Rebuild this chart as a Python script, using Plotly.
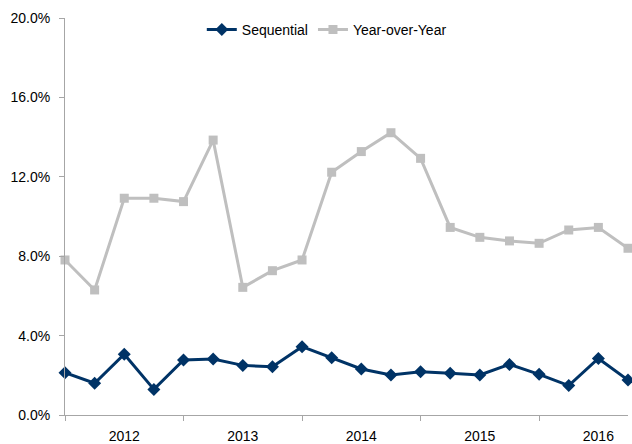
import plotly.graph_objects as go

quarters = list(range(20))
years = ["2012", "2013", "2014", "2015", "2016"]
year_label_pos = [2, 6, 10, 14, 18]
sequential = [2.13, 1.60, 3.06, 1.29, 2.77, 2.82, 2.50, 2.43, 3.44, 2.89,
              2.32, 2.02, 2.18, 2.10, 2.02, 2.55, 2.05, 1.48, 2.85, 1.76]
year_over_year = [7.81, 6.30, 10.92, 10.92, 10.75, 13.85, 6.43, 7.27, 7.81, 12.23,
                  13.27, 14.22, 12.93, 9.45, 8.95, 8.77, 8.65, 9.32, 9.45, 8.40]
y_ticks = [0, 4, 8, 12, 16, 20]

font = dict(family="Liberation Sans, Arial, sans-serif", size=14, color="#000000")
axis_color = "#A6A6A6"

fig = go.Figure()
fig.add_trace(go.Scatter(
    x=quarters, y=sequential, name="Sequential", mode="lines+markers",
    line=dict(color="#003366", width=3),
    marker=dict(symbol="diamond", size=10, color="#003366"),
    cliponaxis=False,
))
fig.add_trace(go.Scatter(
    x=quarters, y=year_over_year, name="Year-over-Year", mode="lines+markers",
    line=dict(color="#BFBFBF", width=3),
    marker=dict(symbol="square", size=9, color="#BFBFBF"),
    cliponaxis=False,
))

fig.update_layout(
    width=632, height=444,
    margin=dict(l=65, r=4, t=18, b=29),
    paper_bgcolor="white", plot_bgcolor="white",
    font=font,
    showlegend=True,
    legend=dict(orientation="h", x=0.465, xanchor="center", y=0.970, yanchor="middle",
                font=font, bgcolor="rgba(0,0,0,0)", itemwidth=30),
    xaxis=dict(
        range=[0, 19], tickmode="array", tickvals=year_label_pos, ticktext=years,
        ticks="", showgrid=False, zeroline=False,
        showline=True, linecolor=axis_color, linewidth=1,
        minor=dict(ticks="outside", tick0=0, dtick=4, ticklen=5, tickcolor=axis_color,
                   tickwidth=1, showgrid=False),
        tickfont=font, automargin=False, ticklabelstandoff=8,
    ),
    yaxis=dict(
        range=[0, 20], tickmode="array", tickvals=y_ticks,
        ticktext=[f"{v:.1f}%" for v in y_ticks],
        ticks="outside", ticklen=5, tickcolor=axis_color,
        showgrid=False, zeroline=False,
        showline=True, linecolor=axis_color, linewidth=1,
        tickfont=font, automargin=False, ticklabelstandoff=6,
    ),
)

fig.write_html("out.html", config={"displayModeBar": False},
               post_script="document.body.style.margin='0';document.body.style.padding='0';")
